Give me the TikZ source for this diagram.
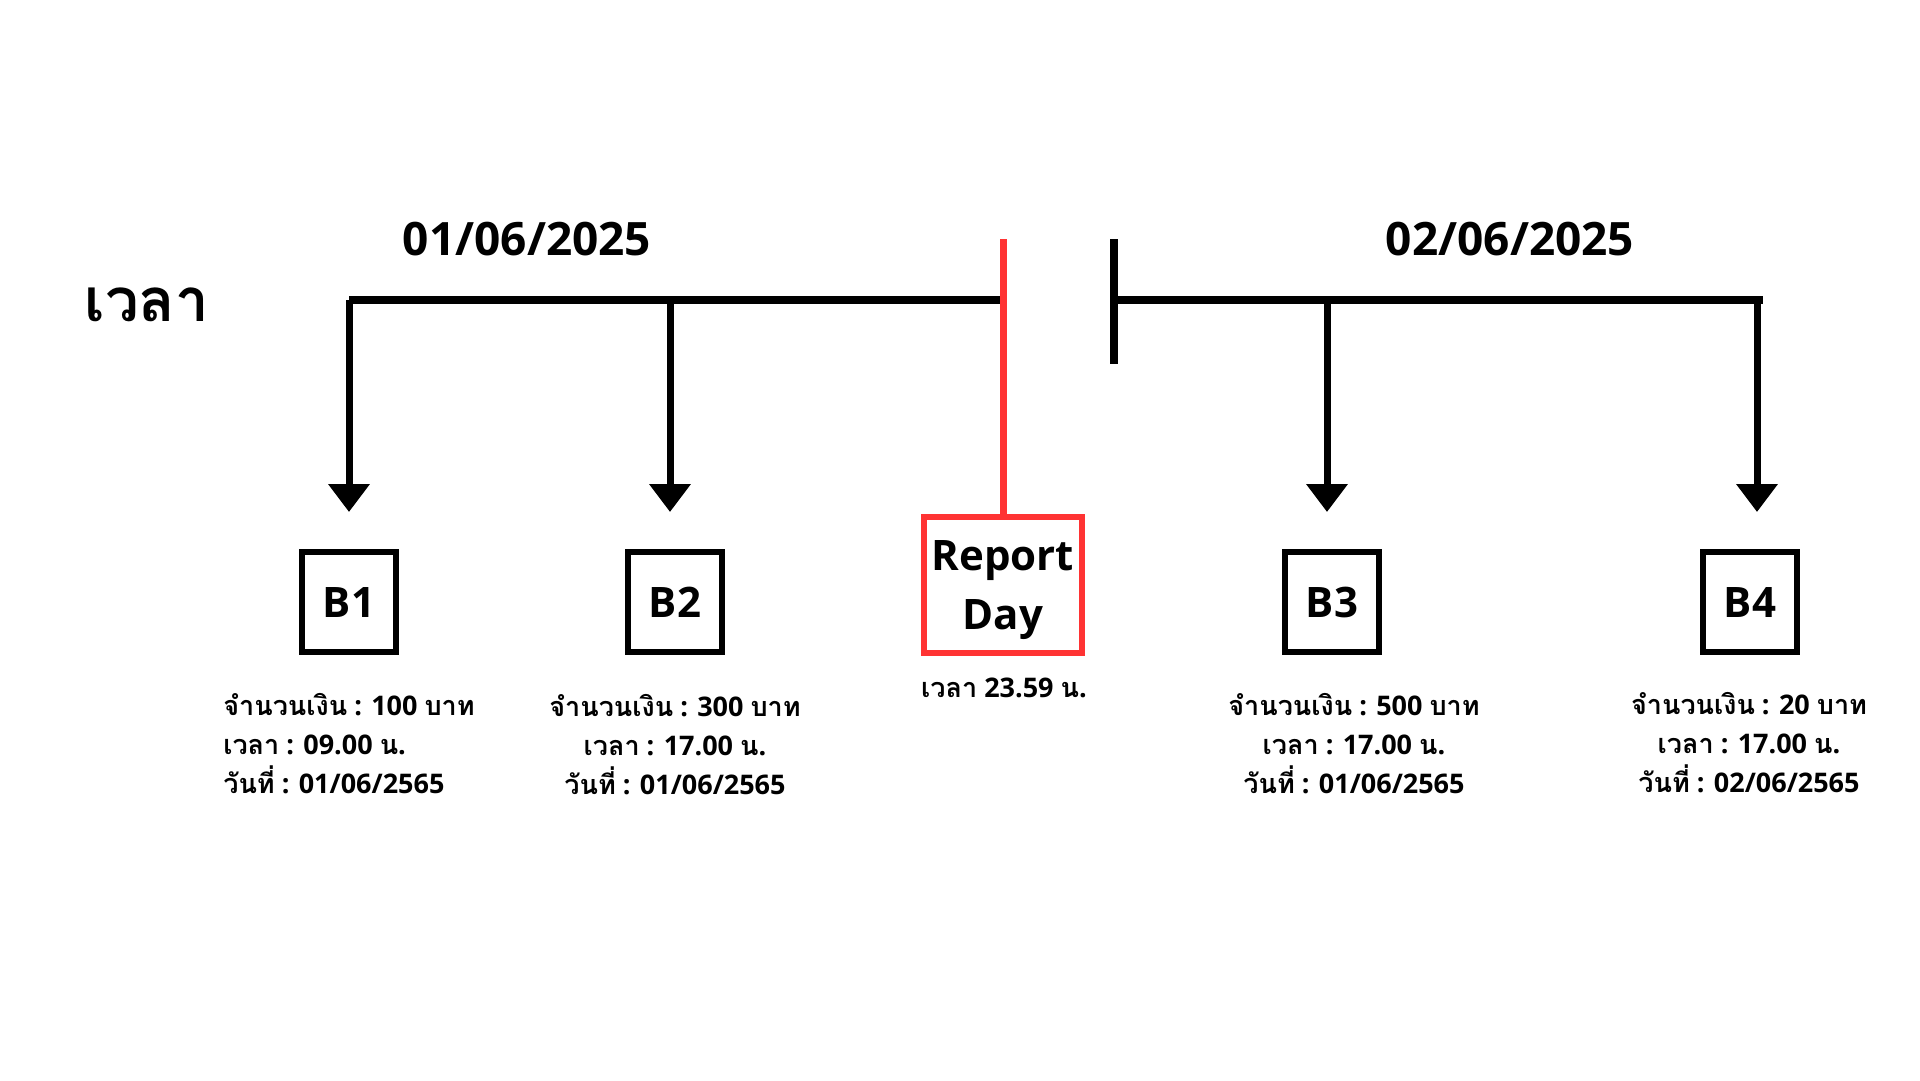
\documentclass[tikz,border=0pt]{standalone}
\usepackage{fontspec}
\setmainfont{Open Sans}
\newfontfamily\thaifont[Script=Thai]{Loma}
\newcommand\thx[1]{{\thaifont\bfseries #1}}
\usetikzlibrary{arrows.meta}
\definecolor{repred}{RGB}{255,51,51}
\begin{document}
\begin{tikzpicture}[x=1pt,y=-1pt,
  tline/.style={line width=8.5pt},
  arr/.style={line width=7pt,-{Triangle[width=40pt,length=28pt]}},
  bbox/.style={draw,line width=6pt,minimum width=94pt,minimum height=100pt,inner sep=0pt,font=\fontsize{42}{50}\selectfont\bfseries},
  rbox/.style={draw=repred,line width=6pt,minimum width=158pt,minimum height=136pt,inner sep=0pt,text depth=0pt,align=center,font=\fontsize{42}{59}\selectfont\bfseries},
  info/.style={font=\fontsize{27}{39}\selectfont\bfseries,inner sep=0pt},
  datetxt/.style={font=\fontsize{46}{56}\selectfont\bfseries,inner sep=0pt}]
\useasboundingbox (0,0) rectangle (1920,1080);

% labels
\node[inner sep=0pt] (vela) at (147,305) {\fontsize{60}{72}\selectfont\thx{เวลา}};
\node[datetxt] (d1) at (527,239) {01/06/2025};
\node[datetxt] (d2) at (1510,239) {02/06/2025};

% timeline coordinates
\coordinate (l1s) at (349,300);
\coordinate (l1e) at (1002,300);
\coordinate (rtop) at (1003,239);
\coordinate (tkt) at (1114,239);
\coordinate (tkb) at (1114,364);
\coordinate (l2s) at (1114,300);
\coordinate (l2e) at (1763,300);
\coordinate (a1) at (349,300);
\coordinate (a2) at (670,300);
\coordinate (a3) at (1327,300);
\coordinate (a4) at (1757,300);
\coordinate (e1) at (349,512);
\coordinate (e2) at (670,512);
\coordinate (e3) at (1327,512);
\coordinate (e4) at (1757,512);

% boxes
\node[bbox] (B1) at (349,602) {B1};
\node[bbox] (B2) at (675,602) {B2};
\node[rbox] (RD) at (1003,585) {Report\\Day};
\node[bbox] (B3) at (1332,602) {B3};
\node[bbox] (B4) at (1750,602) {B4};

% lines
\draw[tline] (l1s) -- (l1e);
\draw[tline] (l2s) -- (l2e);
\draw[tline] (tkt) -- (tkb);
\draw[repred,line width=7pt] (rtop) -- (RD.north);
\draw[arr] (a1) -- (e1);
\draw[arr] (a2) -- (e2);
\draw[arr] (a3) -- (e3);
\draw[arr] (a4) -- (e4);

% info texts
\node[info,align=left] (i1) at (349,744) {\thx{จำนวนเงิน} : 100 \thx{บาท}\\\thx{เวลา} : 09.00 \thx{น}.\\\thx{วันที่} : 01/06/2565};
\node[info,align=center] (i2) at (675,745) {\thx{จำนวนเงิน} : 300 \thx{บาท}\\\thx{เวลา} : 17.00 \thx{น}.\\\thx{วันที่} : 01/06/2565};
\node[info] (i5) at (1004,688) {\thx{เวลา} 23.59 \thx{น}.};
\node[info,align=center] (i3) at (1354,744) {\thx{จำนวนเงิน} : 500 \thx{บาท}\\\thx{เวลา} : 17.00 \thx{น}.\\\thx{วันที่} : 01/06/2565};
\node[info,align=center] (i4) at (1749,743) {\thx{จำนวนเงิน} : 20 \thx{บาท}\\\thx{เวลา} : 17.00 \thx{น}.\\\thx{วันที่} : 02/06/2565};
\end{tikzpicture}
\end{document}
